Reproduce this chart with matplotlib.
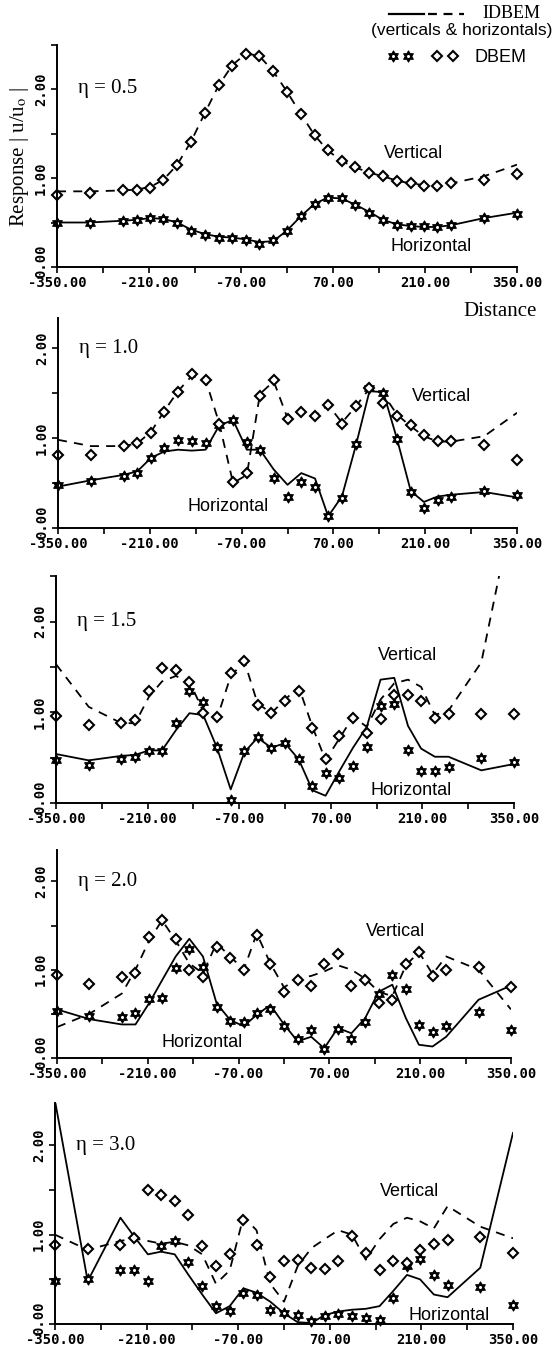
import numpy as np
import matplotlib
matplotlib.use("Agg")
import matplotlib.pyplot as plt
import matplotlib.transforms as mtransforms
from matplotlib.path import Path
from matplotlib.lines import Line2D

# distances of the computed stations (same grid in every panel)
x_pts = [-350, -300, -250, -229, -208, -188, -167, -146, -125, -104, -83, -62, -42, -21,
         0, 21, 42, 62, 83, 104, 125, 146, 167, 188, 208, 229, 250, 300, 350]

etas = ["0.5", "1.0", "1.5", "2.0", "3.0"]
x_ticks = [-350, -280, -210, -140, -70, 0, 70, 140, 210, 280, 350]
x_labels = ["-350.00", "", "-210.00", "", "-70.00", "", "70.00", "", "210.00", "", "350.00"]
y_ticks = [0.0, 0.5, 1.0, 1.5, 2.0, 2.5]
y_labels = ["0.00", "", "1.00", "", "2.00", ""]

# eta = 0.5
idbem_h_05 = [0.50, 0.50, 0.52, 0.53, 0.55, 0.54, 0.50, 0.42, 0.37, 0.34, 0.33, 0.31, 0.28, 0.29, 0.41,
              0.57, 0.71, 0.78, 0.77, 0.70, 0.62, 0.53, 0.48, 0.46, 0.45, 0.45, 0.47, 0.55, 0.61]
idbem_v_05 = [0.85, 0.85, 0.86, 0.87, 0.90, 0.98, 1.15, 1.41, 1.73, 2.04, 2.27, 2.40, 2.37, 2.20, 1.97,
              1.72, 1.48, 1.31, 1.19, 1.12, 1.06, 1.02, 0.97, 0.94, 0.92, 0.91, 0.94, 1.02, 1.15]
dbem_h_05 = [0.50, 0.49, 0.515, 0.53, 0.545, 0.54, 0.49, 0.41, 0.36, 0.33, 0.33, 0.30, 0.26, 0.30, 0.41,
             0.57, 0.71, 0.78, 0.77, 0.70, 0.61, 0.53, 0.47, 0.46, 0.46, 0.45, 0.47, 0.545, 0.60]
dbem_v_05 = [0.81, 0.83, 0.86, 0.87, 0.89, 0.98, 1.15, 1.41, 1.73, 2.04, 2.26, 2.39, 2.37, 2.20, 1.97,
             1.72, 1.48, 1.31, 1.19, 1.12, 1.06, 1.02, 0.97, 0.94, 0.91, 0.91, 0.94, 0.98, 1.05]

# eta = 1.0
idbem_h_10 = [0.46, 0.53, 0.59, 0.63, 0.78, 0.85, 0.87, 0.86, 0.87, 1.14, 1.20, 0.87, 0.87, 0.65, 0.48,
              0.61, 0.55, 0.13, 0.35, 0.91, 1.52, 1.51, 0.99, 0.41, 0.29, 0.35, 0.37, 0.40, 0.34]
idbem_v_10 = [0.98, 0.91, 0.91, 0.94, 1.07, 1.30, 1.52, 1.69, 1.65, 1.16, 0.50, 0.59, 1.49, 1.63, 1.22,
              1.30, 1.24, 1.37, 1.17, 1.35, 1.55, 1.49, 1.26, 1.13, 1.02, 0.96, 0.96, 1.02, 1.28]
dbem_h_10 = [0.48, 0.52, 0.58, 0.61, 0.78, 0.89, 0.98, 0.97, 0.94, 1.15, 1.20, 0.96, 0.87, 0.56, 0.35,
             0.51, 0.46, 0.13, 0.33, 0.93, 1.56, 1.50, 0.99, 0.40, 0.22, 0.31, 0.35, 0.41, 0.37]
dbem_v_10 = [0.81, 0.81, 0.91, 0.94, 1.06, 1.29, 1.51, 1.71, 1.65, 1.16, 0.51, 0.61, 1.47, 1.65, 1.21,
             1.29, 1.25, 1.37, 1.16, 1.36, 1.55, 1.39, 1.24, 1.14, 1.03, 0.97, 0.97, 0.92, 0.76]

# eta = 1.5
idbem_h_15 = [0.54, 0.47, 0.52, 0.53, 0.58, 0.58, 0.80, 0.99, 0.97, 0.61, 0.15, 0.56, 0.72, 0.61, 0.66,
              0.48, 0.14, 0.08, 0.35, 0.61, 0.84, 1.36, 1.38, 0.85, 0.60, 0.51, 0.51, 0.36, 0.43]
idbem_v_15 = [1.53, 1.06, 0.88, 0.88, 1.17, 1.34, 1.40, 1.34, 1.01, 0.93, 1.40, 1.56, 1.10, 0.99, 1.14,
              1.28, 0.84, 0.47, 0.71, 0.95, 0.84, 1.14, 1.32, 1.36, 1.28, 0.97, 1.02, 1.55, 3.30]
dbem_h_15 = [0.47, 0.42, 0.48, 0.51, 0.57, 0.57, 0.88, 1.23, 1.11, 0.62, 0.03, 0.57, 0.73, 0.61, 0.66,
             0.48, 0.19, 0.33, 0.28, 0.41, 0.62, 1.07, 1.09, 0.58, 0.35, 0.35, 0.40, 0.50, 0.45]
dbem_v_15 = [0.96, 0.86, 0.88, 0.91, 1.24, 1.49, 1.47, 1.33, 0.99, 0.95, 1.43, 1.57, 1.08, 0.99, 1.12,
             1.23, 0.83, 0.48, 0.74, 0.94, 0.77, 0.93, 1.19, 1.19, 1.12, 0.94, 0.98, 0.98, 0.98]

# eta = 2.0
idbem_h_20 = [0.55, 0.44, 0.38, 0.38, 0.62, 0.88, 1.15, 1.35, 1.15, 0.62, 0.43, 0.36, 0.49, 0.60, 0.38,
              0.19, 0.24, 0.11, 0.34, 0.28, 0.45, 0.75, 0.83, 0.45, 0.15, 0.13, 0.24, 0.66, 0.82]
idbem_v_20 = [0.35, 0.50, 0.73, 1.00, 1.33, 1.56, 1.33, 1.07, 0.96, 1.30, 1.15, 1.00, 1.41, 1.07, 0.80,
              0.90, 0.93, 0.98, 1.05, 1.00, 0.90, 0.75, 0.70, 1.05, 1.20, 0.95, 1.15, 1.00, 0.55]
dbem_h_20 = [0.53, 0.47, 0.46, 0.51, 0.67, 0.68, 1.02, 1.24, 1.03, 0.58, 0.42, 0.41, 0.51, 0.55, 0.36,
             0.21, 0.32, 0.10, 0.33, 0.22, 0.41, 0.73, 0.94, 0.78, 0.37, 0.29, 0.36, 0.52, 0.32]
dbem_v_20 = [0.94, 0.84, 0.92, 0.96, 1.37, 1.56, 1.35, 1.00, 0.92, 1.26, 1.13, 1.00, 1.39, 1.06, 0.75,
             0.88, 0.81, 1.07, 1.18, 0.81, 0.88, 0.62, 0.66, 1.07, 1.20, 0.93, 1.00, 1.03, 0.80]

# eta = 3.0
idbem_h_30 = [2.50, 0.48, 1.19, 0.98, 0.78, 0.81, 0.78, 0.55, 0.33, 0.12, 0.20, 0.40, 0.35, 0.25, 0.12,
              0.02, 0.01, 0.10, 0.14, 0.16, 0.17, 0.20, 0.37, 0.55, 0.50, 0.33, 0.30, 0.63, 2.14]
idbem_v_30 = [1.00, 0.83, 0.93, 0.96, 0.93, 0.90, 0.92, 0.88, 0.78, 0.45, 0.60, 1.20, 1.05, 0.45, 0.25,
              0.65, 0.85, 0.95, 1.05, 1.00, 0.72, 0.95, 1.12, 1.19, 1.15, 1.07, 1.32, 1.09, 0.96]
dbem_h_30 = [0.48, 0.50, 0.60, 0.61, 0.48, 0.87, 0.93, 0.69, 0.43, 0.20, 0.14, 0.35, 0.33, 0.16, 0.12,
             0.10, 0.03, 0.09, 0.11, 0.09, 0.07, 0.04, 0.29, 0.65, 0.73, 0.55, 0.44, 0.41, 0.21]
dbem_v_30 = [0.89, 0.84, 0.88, 0.96, 1.50, 1.45, 1.38, 1.22, 0.87, 0.65, 0.78, 1.16, 0.89, 0.53, 0.71,
             0.72, 0.63, 0.62, 0.70, 0.98, 0.79, 0.61, 0.71, 0.68, 0.83, 0.90, 0.94, 0.97, 0.79]

panels = [
    (idbem_h_05, idbem_v_05, dbem_h_05, dbem_v_05),
    (idbem_h_10, idbem_v_10, dbem_h_10, dbem_v_10),
    (idbem_h_15, idbem_v_15, dbem_h_15, dbem_v_15),
    (idbem_h_20, idbem_v_20, dbem_h_20, dbem_v_20),
    (idbem_h_30, idbem_v_30, dbem_h_30, dbem_v_30),
]

# label positions (distance, response) for "Vertical" / "Horizontal"
vert_pos = [(192, 1.28), (235, 1.46), (187, 1.63), (172, 1.43), (192, 1.48)]
hor_pos = [(220, 0.23), (-90, 0.24), (193, 0.14), (-126, 0.17), (252, 0.10)]

# axes boxes in pixels: x left, x right, y of zero, px per unit, top value
boxes = [(57, 517, 267, 89.0, 2.5),
         (58, 517, 528, 90.0, 2.33),
         (56, 514, 803, 90.7, 2.5),
         (57, 511, 1058, 88.3, 2.36),
         (55, 513, 1324, 89.3, 2.48)]

W, H = 560, 1353
plt.rcParams['mathtext.fontset'] = 'stix'
fig = plt.figure(figsize=(W / 100, H / 100), dpi=100)

serif = ['Liberation Serif', 'DejaVu Serif']
sans = ['Liberation Sans', 'DejaVu Sans']
mono = 'DejaVu Sans Mono'

# six pointed star marker
ang = np.deg2rad(np.arange(12) * 30 + 90)
rad = np.where(np.arange(12) % 2 == 0, 1.0, 0.577)
verts = np.column_stack([rad * np.cos(ang), rad * np.sin(ang)])
star = Path(np.vstack([verts, verts[:1]]), closed=True)

star_kw = dict(ls='none', marker=star, ms=8, mfc='black', mec='black', mew=0.8)
dot_kw = dict(ls='none', marker='o', ms=2.2, mfc='white', mec='white', mew=0)
diam_kw = dict(ls='none', marker='D', ms=5, mfc='white', mec='black', mew=1.5)

for k, (box, eta, data) in enumerate(zip(boxes, etas, panels)):
    x0, x1, y0, unit, top = box
    ax = fig.add_axes([x0 / W, 1 - y0 / H, (x1 - x0) / W, top * unit / H])
    h_line, v_line, h_pts, v_pts = data

    ax.plot(x_pts, h_line, color='black', lw=1.3)
    ax.plot(x_pts, v_line, color='black', lw=1.3, ls=(0, (5, 4)))
    ax.plot(x_pts, h_pts, clip_on=False, **star_kw)
    ax.plot(x_pts, h_pts, clip_on=False, **dot_kw)
    ax.plot(x_pts, v_pts, clip_on=False, **diam_kw)

    ax.set_xlim(-350, 350)
    ax.set_ylim(0, top)
    for s in ['top', 'right']:
        ax.spines[s].set_visible(False)
    for s in ['left', 'bottom']:
        ax.spines[s].set_linewidth(1.4)

    ax.set_xticks(x_ticks)
    ax.set_xticklabels(x_labels)
    yt = [t for t in y_ticks if t <= top + 1e-6]
    ax.set_yticks(yt)
    ax.set_yticklabels(y_labels[:len(yt)], rotation=90, va='center')
    ax.tick_params(length=4.5, width=1.2, labelsize=10, pad=2, labelfontfamily=mono)
    for lab in ax.get_xticklabels() + ax.get_yticklabels():
        lab.set_fontweight('bold')
    # the zero label sits a little above its tick, as in the original
    zero = ax.get_yticklabels()[0]
    zero.set_transform(zero.get_transform() + mtransforms.ScaledTranslation(0, 6 / 100, fig.dpi_scale_trans))

    ax.text(-318, 2.0, "\u03b7 = " + eta, family=serif, fontsize=15, ha='left', va='center')
    ax.text(*vert_pos[k], "Vertical", family=sans, fontsize=13, ha='center', va='center')
    ax.text(*hor_pos[k], "Horizontal", family=sans, fontsize=13, ha='center', va='center')


def fx(px):
    return px / W


def fy(py):
    return 1 - py / H


fig.text(fx(20), fy(157), "Response | u/u$_\\mathrm{o}$ |", family=serif, fontsize=15,
         rotation=90, ha='center', va='center')
fig.text(fx(500), fy(312), "Distance", family=serif, fontsize=15, ha='center', va='center')

# legend
fig.add_artist(Line2D([fx(389), fx(424)], [fy(14), fy(14)], color='black', lw=1.6))
fig.add_artist(Line2D([fx(428), fx(464)], [fy(14), fy(14)], color='black', lw=1.6,
                      ls=(0, (4, 3))))
fig.text(fx(482), fy(14), "IDBEM", family=serif, fontsize=13, ha='left', va='center')
fig.text(fx(462), fy(30), "(verticals & horizontals)", family=sans, fontsize=12.5,
         ha='center', va='center')
fig.add_artist(Line2D([fx(393), fx(408)], [fy(56), fy(56)], **star_kw))
fig.add_artist(Line2D([fx(393), fx(408)], [fy(56), fy(56)], **dot_kw))
fig.add_artist(Line2D([fx(437), fx(453)], [fy(56), fy(56)], **diam_kw))
fig.text(fx(474), fy(58), "DBEM", family=sans, fontsize=13, ha='left', va='center')

fig.savefig("out.png", dpi=100)
